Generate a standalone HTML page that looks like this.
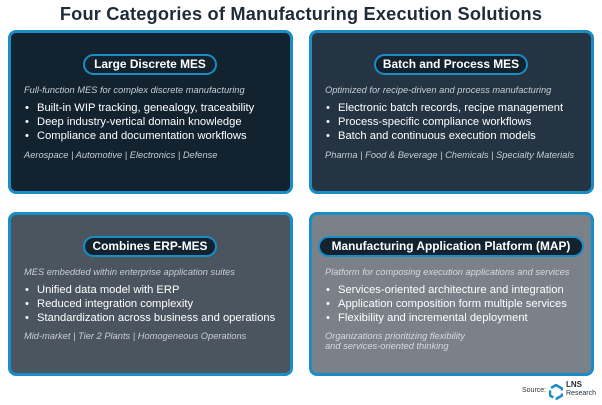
<!DOCTYPE html>
<html><head><meta charset="utf-8"><style>
*{margin:0;padding:0;box-sizing:border-box}
body{width:602px;height:405px;background:#fff;font-family:"Liberation Sans",sans-serif;position:relative;overflow:hidden}
.h{position:absolute;left:0;width:602px;top:4px;text-align:center;font-size:18.2px;font-weight:bold;color:#1e2b38;letter-spacing:0.2px}
.box{position:absolute;border:3px solid #1a8cc6;border-radius:8px}
.pill{position:absolute;height:21px;border:2px solid #1a8cc6;border-radius:11px;background:#13222f;color:#fff;font-weight:bold;font-size:11.9px;text-align:center;line-height:17px}
.t{position:absolute;color:#fff;white-space:nowrap}
.i{font-style:italic;font-size:9.3px;color:#c8cdd2}
.b{font-size:11.2px}
.b span{display:inline-block;width:13px;padding-left:1px}
</style></head><body>
<div class="h">Four Categories of Manufacturing Execution Solutions</div>

<div class="box" style="left:8px;top:30px;width:285px;height:164px;background:#13222f"></div>
<div class="pill" style="left:83px;top:54px;width:134px">Large Discrete MES</div>
<div class="t i" style="left:24px;top:85px">Full-function MES for complex discrete manufacturing</div>
<div class="t b" style="left:24px;top:102px"><span>•</span>Built-in WIP tracking, genealogy, traceability</div>
<div class="t b" style="left:24px;top:116px"><span>•</span>Deep industry-vertical domain knowledge</div>
<div class="t b" style="left:24px;top:130px"><span>•</span>Compliance and documentation workflows</div>
<div class="t i" style="left:24px;top:150px">Aerospace | Automotive | Electronics | Defense</div>

<div class="box" style="left:309px;top:30px;width:285px;height:164px;background:#243443"></div>
<div class="pill" style="left:374px;top:54px;width:154px">Batch and Process MES</div>
<div class="t i" style="left:325px;top:85px">Optimized for recipe-driven and process manufacturing</div>
<div class="t b" style="left:325px;top:102px"><span>•</span>Electronic batch records, recipe management</div>
<div class="t b" style="left:325px;top:116px"><span>•</span>Process-specific compliance workflows</div>
<div class="t b" style="left:325px;top:130px"><span>•</span>Batch and continuous execution models</div>
<div class="t i" style="left:325px;top:150px">Pharma | Food &amp; Beverage | Chemicals | Specialty Materials</div>

<div class="box" style="left:8px;top:212px;width:285px;height:164px;background:#4a5560"></div>
<div class="pill" style="left:83px;top:236px;width:134px">Combines ERP-MES</div>
<div class="t i" style="left:24px;top:267px">MES embedded within enterprise application suites</div>
<div class="t b" style="left:24px;top:284px"><span>•</span>Unified data model with ERP</div>
<div class="t b" style="left:24px;top:298px"><span>•</span>Reduced integration complexity</div>
<div class="t b" style="left:24px;top:312px"><span>•</span>Standardization across business and operations</div>
<div class="t i" style="left:24px;top:331px">Mid-market | Tier 2 Plants | Homogeneous Operations</div>

<div class="box" style="left:309px;top:212px;width:285px;height:164px;background:#7a8188"></div>
<div class="pill" style="left:318px;top:236px;width:266px">Manufacturing Application Platform (MAP)</div>
<div class="t i" style="left:325px;top:267px;color:#d6dadd">Platform for composing execution applications and services</div>
<div class="t b" style="left:325px;top:284px"><span>•</span>Services-oriented architecture and integration</div>
<div class="t b" style="left:325px;top:298px"><span>•</span>Application composition form multiple services</div>
<div class="t b" style="left:325px;top:312px"><span>•</span>Flexibility and incremental deployment</div>
<div class="t i" style="left:325px;top:331px;color:#d6dadd;line-height:10px">Organizations prioritizing flexibility<br>and services-oriented thinking</div>

<div class="t" style="left:522px;top:387px;font-size:7px;color:#333">Source:</div>
<svg style="position:absolute;left:549px;top:384px" width="14" height="16" viewBox="0 0 14 16"><path d="M7 1 L13 4.5 L13 11.5 L7 15 L1 11.5 L1 4.5 Z" fill="none" stroke="#1a8cc6" stroke-width="2.5" stroke-dasharray="9 3"/></svg>
<div class="t" style="left:566px;top:381px;font-size:8px;font-weight:bold;color:#1e2b38;line-height:8px">LNS<br><span style="font-weight:normal;font-size:7px">Research</span></div>
</body></html>
